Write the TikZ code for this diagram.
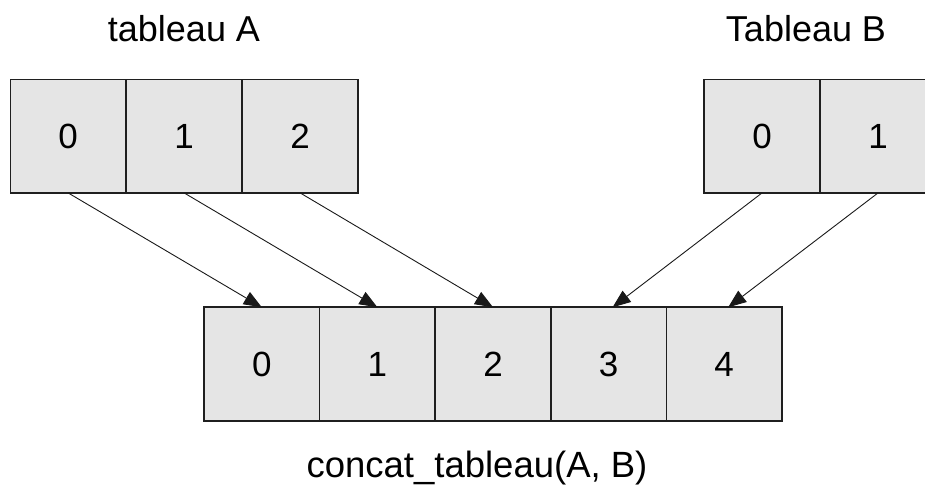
\documentclass[tikz,border=0pt]{standalone}
\usepackage{fontspec}
\setmainfont{Liberation Sans}
\usetikzlibrary{arrows.meta,calc}
\begin{document}
\begin{tikzpicture}[x=1pt,y=-1pt,
  cell/.style={draw=black!88,line width=1.6pt,fill=black!10,minimum width=115.6pt,minimum height=113.5pt,inner sep=0pt,outer sep=0pt,font=\fontsize{35}{40}\selectfont},
  lbl/.style={anchor=base,inner sep=0pt,font=\fontsize{36}{40}\selectfont},
  link/.style={line width=0.9pt,draw=black!90,-{Triangle[length=18pt,width=14pt]}}]
\clip (0,0) rectangle (925,486);
\useasboundingbox (0,0) rectangle (925,486);
% Tableau A
\node[cell] (a0) at (68.2,136.2) {0};
\node[cell] (a1) at (184.2,136.2) {1};
\node[cell] (a2) at (300.2,136.2) {2};
% Tableau B
\node[cell] (b0) at (762,136.2) {0};
\node[cell] (b1) at (878,136.2) {1};
% Result
\node[cell] (c0) at (261.8,364) {0};
\node[cell] (c1) at (377.4,364) {1};
\node[cell] (c2) at (493,364) {2};
\node[cell] (c3) at (608.6,364) {3};
\node[cell] (c4) at (724.2,364) {4};
% labels
\node[lbl] (la) at (184,42) {tableau A};
\node[lbl] (lb) at (806,42) {Tableau B};
\node[lbl,font=\fontsize{36.5}{40}\selectfont] (lc) at (477,477) {concat\_tableau(A, B)};
% arrows
\draw[link] (a0.south) -- (c0.north);
\draw[link] (a1.south) -- (c1.north);
\draw[link] (a2.south) -- (c2.north);
\draw[link] (b0.south) -- ($(c3.north)+(4,0)$);
\draw[link] (b1.south) -- ($(c4.north)+(4,0)$);
\end{tikzpicture}
\end{document}
